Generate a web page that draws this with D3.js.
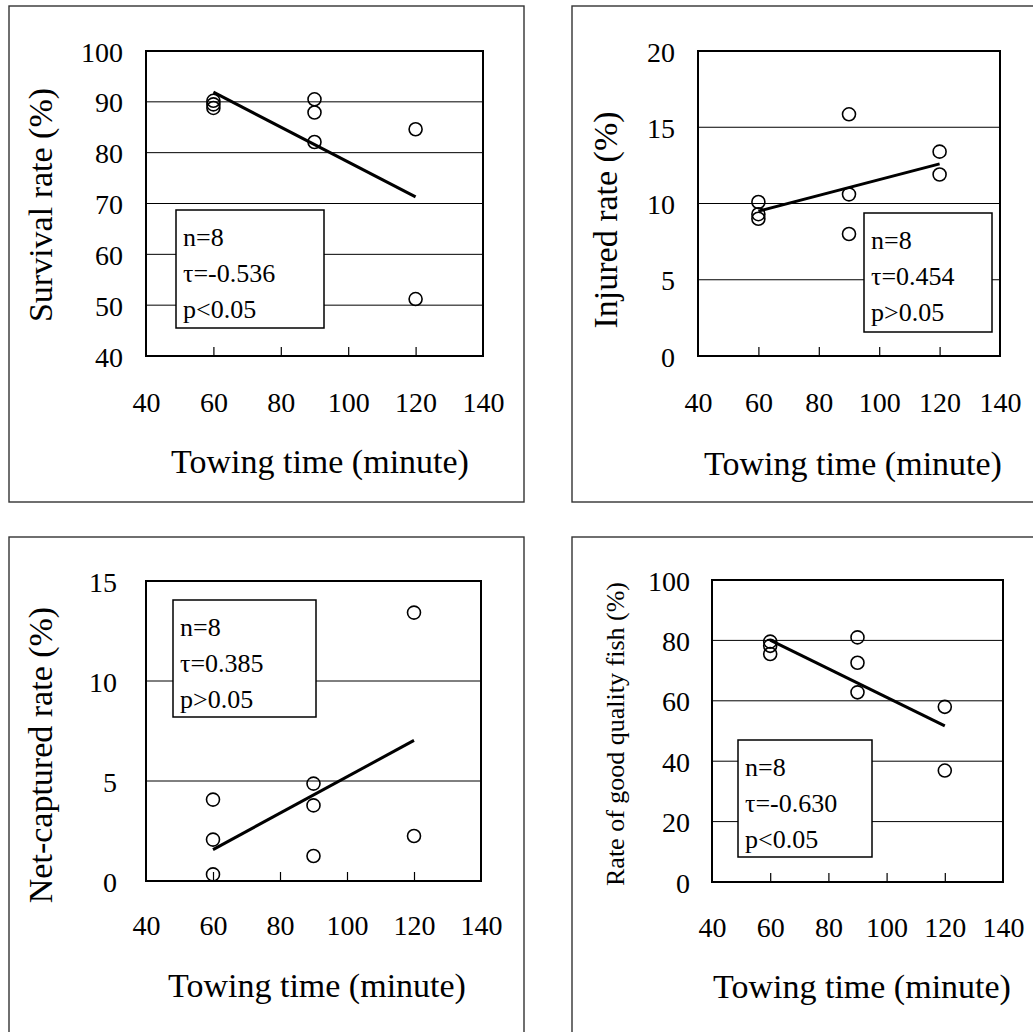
<!DOCTYPE html>
<html>
<head>
<meta charset="utf-8">
<script src="https://cdn.jsdelivr.net/npm/d3@7"></script>
<style>
  body { margin: 0; background: #fff; }
  svg text { font-family: "Liberation Serif", "DejaVu Serif", serif; fill: #000; }
</style>
</head>
<body>
<script>
var W = 1033, H = 1032,
    serif = "'Liberation Serif', 'DejaVu Serif', serif";

// data
var towingTime = [60, 60, 60, 90, 90, 90, 120, 120];
var survivalRate = [90.2, 89.5, 88.8, 90.5, 87.9, 82.1, 84.6, 51.2];
var injuredRate = [10.1, 9.3, 9.0, 15.85, 10.6, 8.0, 13.4, 11.9];
var netCapturedRate = [4.07, 2.07, 0.33, 4.87, 3.78, 1.25, 13.42, 2.25];
var goodQualityRate = [79.6, 78.2, 75.5, 81.0, 72.6, 62.8, 58.0, 36.9];

// regression line ends, at 60 and 120 minutes
var trendTime = [60, 120];
var survivalTrend = [91.9, 71.3];
var injuredTrend = [9.5, 12.6];
var netCapturedTrend = [1.57, 7.03];
var goodQualityTrend = [80.1, 51.7];

var xTicks = [40, 60, 80, 100, 120, 140];
var survivalTicks = [40, 50, 60, 70, 80, 90, 100];
var injuredTicks = [0, 5, 10, 15, 20];
var netCapturedTicks = [0, 5, 10, 15];
var goodQualityTicks = [0, 20, 40, 60, 80, 100];

var statLines = [
  ["n=8", "\u03c4=-0.536", "p<0.05"],
  ["n=8", "\u03c4=0.454", "p>0.05"],
  ["n=8", "\u03c4=0.385", "p>0.05"],
  ["n=8", "\u03c4=-0.630", "p<0.05"]
];
var yTitles = ["Survival rate (%)", "Injured rate (%)", "Net-captured rate (%)", "Rate of good quality fish (%)"];
var xTitle = "Towing time (minute)";

// layout of each panel (pixels)
var panels = [
  { frame: [9, 6, 515, 496], plot: [146, 51, 483, 356], y: survivalRate, trend: survivalTrend, ticks: survivalTicks,
    ylab: [40, 205, 34], ypad: 23, xlabBase: 412, xlab: [320, 473], box: [176, 210, 324, 328] },
  { frame: [572, 6, 480, 496], plot: [698, 51, 1000, 356], y: injuredRate, trend: injuredTrend, ticks: injuredTicks,
    ylab: [605, 220, 34], ypad: 23, xlabBase: 412, xlab: [853, 475], box: [864, 213, 992, 332] },
  { frame: [9, 537, 515, 520], plot: [146, 581, 481, 881], y: netCapturedRate, trend: netCapturedTrend, ticks: netCapturedTicks,
    ylab: [40, 755, 34], ypad: 29, xlabBase: 935, xlab: [317, 997], box: [173, 600, 316, 717] },
  { frame: [572, 537, 480, 520], plot: [712, 580, 1003, 882], y: goodQualityRate, trend: goodQualityTrend, ticks: goodQualityTicks,
    ylab: [615, 734, 26], ypad: 22, xlabBase: 937, xlab: [862, 998], box: [738, 740, 872, 857] }
];

var svg = d3.select("body").append("svg")
  .attr("width", W)
  .attr("height", H)
  .attr("font-family", serif);

panels.forEach(function(p, i) {
  var g = svg.append("g");

  // outer frame
  g.append("rect")
    .attr("x", p.frame[0]).attr("y", p.frame[1])
    .attr("width", p.frame[2]).attr("height", p.frame[3])
    .attr("fill", "none").attr("stroke", "#333").attr("stroke-width", 1.4);

  var x = d3.scaleLinear().domain([40, 140]).range([p.plot[0], p.plot[2]]);
  var y = d3.scaleLinear().domain(d3.extent(p.ticks)).range([p.plot[3], p.plot[1]]);

  // grid lines
  g.selectAll(".grid")
    .data(p.ticks.slice(1, -1))
    .enter().append("line")
    .attr("x1", p.plot[0]).attr("x2", p.plot[2])
    .attr("y1", function(d) { return y(d); })
    .attr("y2", function(d) { return y(d); })
    .attr("stroke", "#000").attr("stroke-width", 1);

  // x axis: inward ticks, labels far below
  var xAxis = g.append("g")
    .attr("transform", "translate(0," + p.plot[3] + ")")
    .call(d3.axisBottom(x).tickValues(xTicks).tickSizeInner(-9).tickSizeOuter(0)
      .tickPadding(p.xlabBase - p.plot[3] - 20));
  xAxis.attr("font-family", serif).attr("font-size", 28);
  xAxis.select(".domain").remove();
  xAxis.selectAll("line").attr("stroke", "#000").attr("stroke-width", 1.2)
    .filter(function(d) { return d === 40 || d === 140; }).remove();
  xAxis.selectAll("text").attr("fill", "#000");

  // y axis labels
  var yAxis = g.append("g")
    .attr("transform", "translate(" + p.plot[0] + ",0)")
    .call(d3.axisLeft(y).tickValues(p.ticks).tickSize(0).tickPadding(p.ypad));
  yAxis.attr("font-family", serif).attr("font-size", 28);
  yAxis.select(".domain").remove();
  yAxis.selectAll("text").attr("fill", "#000").attr("dy", "0.36em");

  // stats box
  g.append("rect")
    .attr("x", p.box[0]).attr("y", p.box[1])
    .attr("width", p.box[2] - p.box[0]).attr("height", p.box[3] - p.box[1])
    .attr("fill", "#fff").attr("stroke", "#000").attr("stroke-width", 1.5);
  g.selectAll(".stat")
    .data(statLines[i])
    .enter().append("text")
    .attr("x", p.box[0] + 7)
    .attr("y", function(d, k) { return p.box[1] + 36 + k * 36; })
    .attr("font-size", 26)
    .text(function(d) { return d; });

  // plot frame
  g.append("rect")
    .attr("x", p.plot[0]).attr("y", p.plot[1])
    .attr("width", p.plot[2] - p.plot[0]).attr("height", p.plot[3] - p.plot[1])
    .attr("fill", "none").attr("stroke", "#000").attr("stroke-width", 2);

  // points
  g.selectAll(".pt")
    .data(towingTime.map(function(t, k) { return [t, p.y[k]]; }))
    .enter().append("circle")
    .attr("cx", function(d) { return x(d[0]); })
    .attr("cy", function(d) { return y(d[1]); })
    .attr("r", 6.5)
    .attr("fill", "none").attr("stroke", "#000").attr("stroke-width", 1.6);

  // regression line
  g.append("path")
    .datum(trendTime.map(function(t, k) { return [t, p.trend[k]]; }))
    .attr("d", d3.line().x(function(d) { return x(d[0]); }).y(function(d) { return y(d[1]); }))
    .attr("fill", "none").attr("stroke", "#000").attr("stroke-width", 3);

  // axis titles
  g.append("text")
    .attr("transform", "translate(" + p.ylab[0] + "," + p.ylab[1] + ") rotate(-90)")
    .attr("text-anchor", "middle")
    .attr("dy", "0.35em")
    .attr("font-size", p.ylab[2])
    .text(yTitles[i]);

  g.append("text")
    .attr("x", p.xlab[0]).attr("y", p.xlab[1])
    .attr("text-anchor", "middle")
    .attr("font-size", 34)
    .text(xTitle);
});
</script>
</body>
</html>
